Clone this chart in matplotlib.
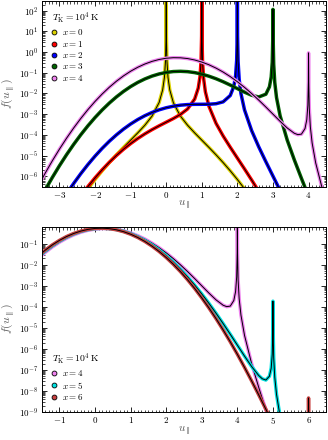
import numpy as np
import matplotlib
matplotlib.use("Agg")
import matplotlib.pyplot as plt
from matplotlib.lines import Line2D
from matplotlib.ticker import FuncFormatter, MultipleLocator, LogLocator, NullFormatter

plt.rcParams['mathtext.fontset'] = 'cm'

# values: u_par and log10 f(u_par), one pair per curve
u_x0 = [-2.4, -2.2, -2.0, -1.8, -1.6, -1.4, -1.2, -1.0, -0.8, -0.6, -0.4, -0.2,
        -0.1, -0.05, -0.02, -0.005, 0.0, 0.005, 0.02, 0.05, 0.1,
        0.2, 0.4, 0.6, 0.8, 1.0, 1.2, 1.4, 1.6, 1.8, 2.0, 2.2, 2.4]
logf_x0 = [-7.085, -6.610, -6.162, -5.741, -5.343, -4.967, -4.607, -4.257, -3.907, -3.536, -3.097, -2.442,
           -1.827, -1.222, -0.425, 0.779, 2.829, 0.779, -0.425, -1.222, -1.827,
           -2.442, -3.097, -3.536, -3.907, -4.257, -4.607, -4.967, -5.343, -5.741, -6.162, -6.610, -7.085]

u_x1 = [-2.4, -2.2, -2.0, -1.8, -1.6, -1.4, -1.2, -1.0, -0.8, -0.6, -0.4, -0.2, 0.0, 0.2, 0.4, 0.6, 0.8,
        0.9, 0.95, 0.98, 0.995, 1.0, 1.005, 1.02, 1.05, 1.1,
        1.2, 1.4, 1.6, 1.8, 2.0, 2.2, 2.4, 2.6]
logf_x1 = [-6.954, -6.501, -6.080, -5.690, -5.331, -5.001, -4.699, -4.425, -4.177, -3.954, -3.751, -3.565,
           -3.389, -3.213, -3.015, -2.749, -2.269,
           -1.741, -1.179, -0.408, 0.783, 2.829, 0.775, -0.443, -1.266, -1.915,
           -2.617, -3.444, -4.057, -4.602, -5.126, -5.649, -6.183, -6.733]

u_x2 = [-3.0, -2.8, -2.6, -2.4, -2.2, -2.0, -1.8, -1.6, -1.4, -1.2, -1.0, -0.8, -0.6, -0.4, -0.2,
        0.0, 0.2, 0.4, 0.6, 0.8, 1.0, 1.2, 1.4, 1.6, 1.8,
        1.9, 1.95, 1.98, 1.995, 2.0, 2.005, 2.02, 2.05, 2.1,
        2.2, 2.4, 2.6, 2.8, 3.0, 3.2]
logf_x2 = [-7.395, -6.856, -6.350, -5.877, -5.437, -5.030, -4.655, -4.313, -4.003, -3.724, -3.477, -3.261,
           -3.075, -2.919, -2.791, -2.691, -2.617, -2.566, -2.537, -2.525, -2.523, -2.520, -2.496, -2.405,
           -2.098,
           -1.656, -1.138, -0.393, 0.785, 2.826, 0.768, -0.463, -1.312, -2.004,
           -2.793, -3.794, -4.581, -5.300, -5.997, -6.694]

u_x3 = [-3.6, -3.4, -3.2, -3.0, -2.8, -2.6, -2.4, -2.2, -2.0, -1.8, -1.6, -1.4, -1.2, -1.0, -0.8, -0.6,
        -0.4, -0.2, 0.0, 0.2, 0.4, 0.6, 0.8, 1.0, 1.2, 1.4, 1.6, 1.8, 2.0, 2.2, 2.4, 2.6, 2.8,
        2.9, 2.95, 2.98, 2.995, 2.999, 3.005, 3.02, 3.05, 3.1,
        3.2, 3.4, 3.6, 3.8, 4.0]
logf_x3 = [-7.296, -6.661, -6.061, -5.494, -4.960, -4.461, -3.995, -3.563, -3.164, -2.798, -2.466, -2.167,
           -1.901, -1.667, -1.466, -1.298, -1.161, -1.056, -0.983, -0.940, -0.928, -0.945, -0.991, -1.065,
           -1.165, -1.288, -1.433, -1.594, -1.766, -1.937, -2.086, -2.169, -2.036,
           -1.681, -1.206, -0.487, 0.678, 2.065, 0.652, -0.592, -1.467, -2.202,
           -3.078, -4.253, -5.213, -6.106, -6.977]

u_x4 = [-3.8, -3.6, -3.4, -3.2, -3.0, -2.8, -2.6, -2.4, -2.2, -2.0, -1.8, -1.6, -1.4, -1.2, -1.0, -0.8,
        -0.6, -0.4, -0.2, 0.0, 0.2, 0.4, 0.6, 0.8, 1.0, 1.2, 1.4, 1.6, 1.8, 2.0, 2.2, 2.4, 2.6, 2.8,
        3.0, 3.2, 3.4, 3.6,
        3.7, 3.8, 3.9, 3.95, 3.98, 3.995, 3.999, 4.005, 4.02, 4.05, 4.1,
        4.2, 4.4, 4.6, 4.8, 5.0]
logf_x4 = [-7.148, -6.483, -5.852, -5.255, -4.692, -4.163, -3.668, -3.207, -2.780, -2.386, -2.027, -1.701,
           -1.409, -1.150, -0.925, -0.733, -0.575, -0.449, -0.357, -0.297, -0.270, -0.275, -0.312, -0.381,
           -0.481, -0.612, -0.774, -0.965, -1.185, -1.432, -1.705, -2.002, -2.321, -2.656, -3.001, -3.346,
           -3.669, -3.925,
           -3.992, -3.966, -3.698, -3.267, -2.574, -1.422, -0.038, -1.457, -2.713, -3.614, -4.393,
           -5.356, -6.705, -7.839, -8.905, -9.950]

u_x5 = [-1.8, -1.6, -1.4, -1.2, -1.0, -0.8, -0.6, -0.4, -0.2, 0.0, 0.2, 0.4, 0.6, 0.8, 1.0, 1.2, 1.4,
        1.6, 1.8, 2.0, 2.2, 2.4, 2.6, 2.8, 3.0, 3.2, 3.4, 3.6, 3.8, 4.0, 4.2, 4.4, 4.6,
        4.7, 4.8, 4.9, 4.95, 4.98, 4.995, 4.999, 5.005, 5.02, 5.05, 5.1, 5.2, 5.4]
logf_x5 = [-1.950, -1.629, -1.341, -1.088, -0.868, -0.683, -0.531, -0.412, -0.327, -0.276, -0.258, -0.273,
           -0.321, -0.402, -0.516, -0.663, -0.842, -1.053, -1.295, -1.569, -1.874, -2.209, -2.574, -2.967,
           -3.389, -3.835, -4.306, -4.799, -5.307, -5.827, -6.345, -6.842, -7.272,
           -7.426, -7.486, -7.305, -6.917, -6.250, -5.111, -3.731, -5.155, -6.424, -7.351, -8.174, -9.223,
           -10.746]

u_x6 = [-1.8, -1.6, -1.4, -1.2, -1.0, -0.8, -0.6, -0.4, -0.2, 0.0, 0.2, 0.4, 0.6, 0.8, 1.0, 1.2, 1.4,
        1.6, 1.8, 2.0, 2.2, 2.4, 2.6, 2.8, 3.0, 3.2, 3.4, 3.6, 3.8, 4.0, 4.2, 4.4, 4.6, 4.8, 5.0,
        5.4, 5.8, 5.98, 5.995, 5.999, 6.005, 6.02, 6.2]
logf_x6 = [-1.902, -1.585, -1.301, -1.051, -0.836, -0.654, -0.507, -0.393, -0.313, -0.268, -0.256, -0.277,
           -0.332, -0.421, -0.543, -0.699, -0.888, -1.110, -1.365, -1.653, -1.973, -2.325, -2.710, -3.126,
           -3.574, -4.053, -4.562, -5.100, -5.667, -6.262, -6.883, -7.527, -8.193, -8.876, -9.569,
           -10.93, -11.92, -10.844, -9.718, -8.340, -9.770, -10.852, -14.0]

top_curves = [(u_x0, logf_x0, '#dcd200', '$x = 0$'),
              (u_x1, logf_x1, '#ff0000', '$x = 1$'),
              (u_x2, logf_x2, '#0000ff', '$x = 2$'),
              (u_x3, logf_x3, '#006400', '$x = 3$'),
              (u_x4, logf_x4, '#ee82ee', '$x = 4$')]
bottom_curves = [(u_x4, logf_x4, '#ee82ee', '$x = 4$'),
                 (u_x5, logf_x5, '#00e0e0', '$x = 5$'),
                 (u_x6, logf_x6, '#c84040', '$x = 6$')]


def style_axis(ax, xlim, ylim, legend_loc, curves):
    for u, lf, col, lab in curves:
        y = 10.0 ** np.array(lf)
        ax.plot(u, y, color=col, lw=2.5, solid_capstyle='butt')
        ax.plot(u, y, color='k', lw=0.7)
    ax.set_yscale('log')
    ax.set_xlim(*xlim)
    ax.set_ylim(*ylim)
    ax.xaxis.set_major_locator(MultipleLocator(1))
    ax.xaxis.set_minor_locator(MultipleLocator(0.1))
    ax.xaxis.set_major_formatter(FuncFormatter(lambda v, p: r'$%d$' % round(v)))
    ax.yaxis.set_major_locator(LogLocator(base=10, numticks=20))
    ax.yaxis.set_minor_locator(LogLocator(base=10, subs=np.arange(2, 10), numticks=20))
    ax.yaxis.set_major_formatter(FuncFormatter(lambda v, p: r'$10^{%d}$' % round(np.log10(v))))
    ax.yaxis.set_minor_formatter(NullFormatter())
    ax.tick_params(which='both', direction='in', top=True, right=True, labelsize=6.5, pad=2.5)
    ax.tick_params(which='major', length=3.5, width=0.6)
    ax.tick_params(which='minor', length=1.8, width=0.5)
    for s in ax.spines.values():
        s.set_linewidth(0.7)
    ax.set_xlabel(r'$u_\parallel$', fontsize=8, labelpad=-1.5, color='0.35')
    ax.set_ylabel(r'$f(u_\parallel)$', fontsize=8.5, labelpad=1, color='0.35')
    handles = [Line2D([], [], ls='none', marker='o', ms=3.5, mfc=col, mec='k', mew=0.6)
               for u, lf, col, lab in curves]
    labels = [lab for u, lf, col, lab in curves]
    ax.legend(handles, labels, loc=legend_loc, frameon=False, fontsize=6.5,
              title=r'$T_{\rm K} = 10^4\,{\rm K}$', title_fontsize=7, alignment='left',
              handlelength=0.6, handletextpad=0.5, labelspacing=0.15, borderaxespad=0.7,
              borderpad=0.4)


fig = plt.figure(figsize=(3.28, 4.40), dpi=100)
ax1 = fig.add_axes([0.127, 0.575, 0.868, 0.423])
ax2 = fig.add_axes([0.127, 0.064, 0.868, 0.421])

style_axis(ax1, (-3.5, 4.5), (3e-7, 3e2), 'upper left', top_curves)
style_axis(ax2, (-1.5, 6.5), (1e-9, 0.66), 'lower left', bottom_curves)

fig.savefig('out.png', dpi=100)
